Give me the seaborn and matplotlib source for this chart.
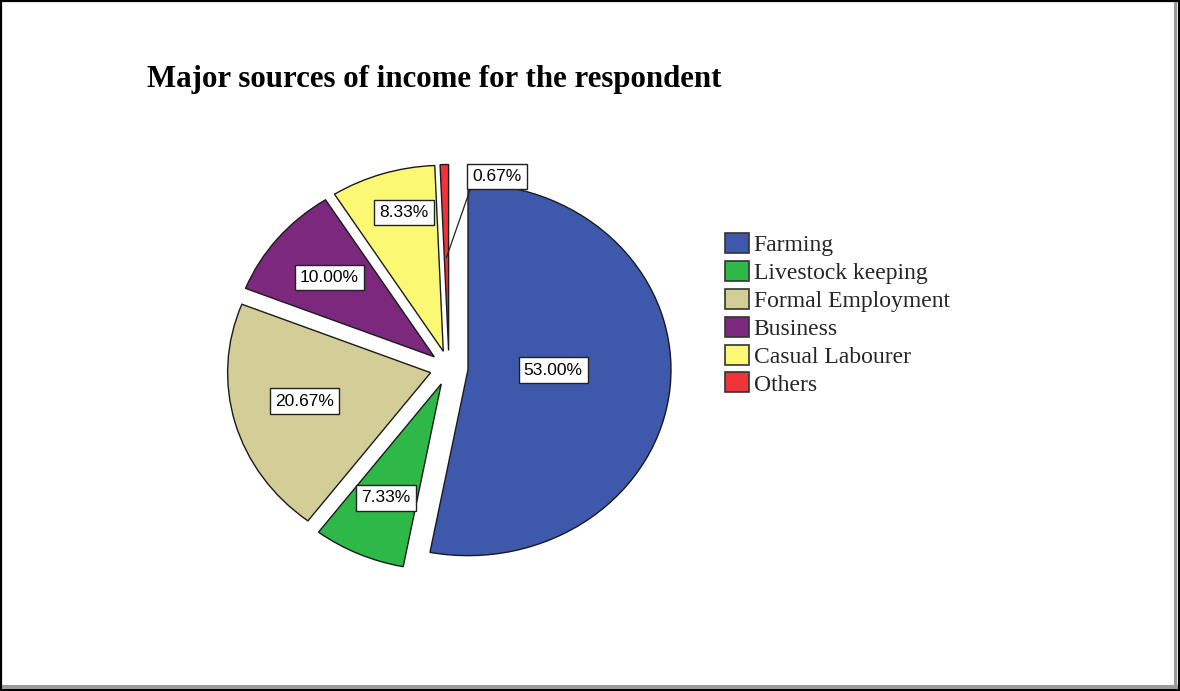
import matplotlib
matplotlib.use("Agg")
import matplotlib.pyplot as plt
import seaborn as sns
import numpy as np
from matplotlib.patches import Rectangle, Patch

# Income source shares (percent of respondents)
categories = ["Farming", "Livestock keeping", "Formal Employment",
              "Business", "Casual Labourer", "Others"]
shares = [53.00, 7.33, 20.67, 10.00, 8.33, 0.67]
slice_colors = ["#3E58AC", "#2EB848", "#D3CE97", "#7C287D", "#FBF873", "#EF3338"]
title_text = "Major sources of income for the respondent"

sns.set_theme(style="white")
plt.rcParams["font.family"] = ["Liberation Sans", "DejaVu Sans"]

W, H = 1180, 691
fig = plt.figure(figsize=(W / 100, H / 100), dpi=100)
fig.patch.set_facecolor("white")

# pie centre and radii in pixels (slightly wider than tall)
cx, cy, rx, ry = 449, 368, 203, 186
lim = 1.2
ax = fig.add_axes([(cx - rx * lim) / W, (H - cy - ry * lim) / H,
                   2 * rx * lim / W, 2 * ry * lim / H])

wedges, _ = ax.pie(
    shares, colors=slice_colors, startangle=90, counterclock=False,
    explode=[0.094] * len(shares),
    wedgeprops=dict(edgecolor="#1a1a1a", linewidth=1.0),
)
ax.set_aspect("auto")
ax.set_xlim(-lim, lim)
ax.set_ylim(-lim, lim)
ax.axis("off")

box = dict(boxstyle="square,pad=0.3", fc="white", ec="#222222", lw=1.0)
label_radius = [0.42, 0.67, 0.64, 0.67, 0.77]
label_turn = [5.0, 0.0, -1.8, 0.0, -2.8]   # degrees added to the mid angle

for w, v, lr, turn in zip(wedges[:-1], shares[:-1], label_radius, label_turn):
    mid = np.deg2rad((w.theta1 + w.theta2) / 2 + turn)
    x0, y0 = w.center
    ax.text(x0 + lr * np.cos(mid), y0 + lr * np.sin(mid), f"{v:.2f}%",
            ha="center", va="center", fontsize=12.5, color="black", bbox=box)

# the smallest slice gets an outside label with a leader line
w = wedges[-1]
mid = np.deg2rad((w.theta1 + w.theta2) / 2)
x0, y0 = w.center
ax.annotate(f"{shares[-1]:.2f}%",
            xy=(x0 + 0.5 * np.cos(mid), y0 + 0.5 * np.sin(mid)),
            xytext=(0.235, 1.03), ha="center", va="center", fontsize=12.5,
            color="black", bbox=box, annotation_clip=False,
            arrowprops=dict(arrowstyle="-", color="#222222", lw=0.9,
                            relpos=(0, 0), shrinkA=0, shrinkB=0))

fig.text(147 / W, 1 - 80 / H, title_text, fontsize=22.2, fontweight="bold",
         family="Liberation Serif", ha="left", va="center", color="black")

handles = [Patch(facecolor=c, edgecolor="#333333", linewidth=1.2) for c in slice_colors]
fig.legend(handles, categories, loc="upper left",
           bbox_to_anchor=(725 / W, 1 - 233 / H), bbox_transform=fig.transFigure,
           frameon=False, prop={"family": "Liberation Serif", "size": 17},
           handlelength=1.0, handleheight=0.93, handletextpad=0.22,
           labelspacing=0.2, borderpad=0, borderaxespad=0)

# outer frame with a grey shadow on the right and bottom
fig.patches.append(Rectangle((1 / W, 1 / H), 1 - 2 / W, 1 - 2 / H,
                             transform=fig.transFigure, fill=False,
                             ec="black", lw=1.6))
fig.patches.append(Rectangle((1 - 6 / W, 2 / H), 3 / W, 1 - 4 / H,
                             transform=fig.transFigure, fc="#9a9a9a", ec="none"))
fig.patches.append(Rectangle((2 / W, 2 / H), 1 - 4 / W, 4 / H,
                             transform=fig.transFigure, fc="#9a9a9a", ec="none"))

fig.savefig("out.png", dpi=100, facecolor="white")
